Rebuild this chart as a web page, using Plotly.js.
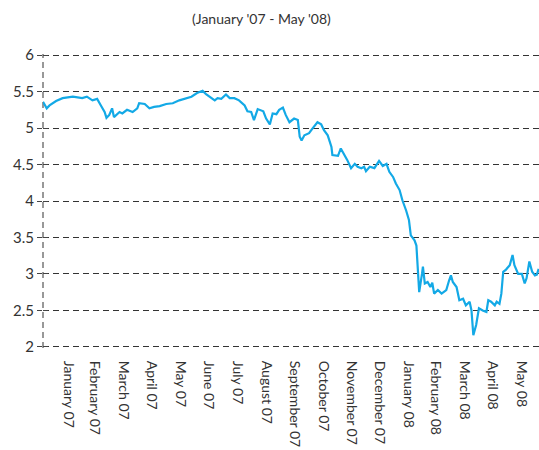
<!DOCTYPE html>
<html>
<head>
<meta charset="utf-8">
<script src="https://cdn.plot.ly/plotly-3.0.1.min.js"></script>
<style>
  html, body { margin: 0; padding: 0; background: #fff; }
  #chart { width: 539px; height: 450px; }
</style>
</head>
<body>
<div id="chart"></div>
<script>
const dates = [
'2007-01-04','2007-01-08','2007-01-11','2007-01-18','2007-01-25','2007-02-05','2007-02-15','2007-02-20','2007-02-26','2007-03-03',
'2007-03-07','2007-03-11','2007-03-13','2007-03-16','2007-03-19','2007-03-21','2007-03-27','2007-03-30','2007-04-04','2007-04-10',
'2007-04-15','2007-04-17','2007-04-23','2007-04-28','2007-05-03','2007-05-09','2007-05-16','2007-05-23','2007-05-30','2007-06-04',
'2007-06-12','2007-06-18','2007-06-24','2007-06-28','2007-07-01','2007-07-07','2007-07-10','2007-07-14','2007-07-19','2007-07-23',
'2007-07-28','2007-08-02','2007-08-08','2007-08-11','2007-08-15','2007-08-18','2007-08-22','2007-08-28','2007-08-31','2007-09-04',
'2007-09-07','2007-09-11','2007-09-14','2007-09-18','2007-09-21','2007-09-25','2007-09-30','2007-10-04','2007-10-06','2007-10-08',
'2007-10-11','2007-10-16','2007-10-20','2007-10-25','2007-10-29','2007-11-01','2007-11-05','2007-11-09','2007-11-10','2007-11-16',
'2007-11-19','2007-11-23','2007-11-26','2007-11-30','2007-12-04','2007-12-07','2007-12-11','2007-12-14','2007-12-16','2007-12-20',
'2007-12-25','2007-12-30','2008-01-03','2008-01-07','2008-01-10','2008-01-14','2008-01-17','2008-01-21','2008-01-24','2008-01-28',
'2008-01-31','2008-02-02','2008-02-06','2008-02-08','2008-02-09','2008-02-10','2008-02-11','2008-02-14','2008-02-15','2008-02-17',
'2008-02-20','2008-02-23','2008-02-25','2008-02-27','2008-03-02','2008-03-06','2008-03-11','2008-03-14','2008-03-16','2008-03-18',
'2008-03-22','2008-03-25','2008-03-29','2008-04-01','2008-04-05','2008-04-07','2008-04-09','2008-04-12','2008-04-15','2008-04-19',
'2008-04-23','2008-04-25','2008-04-28','2008-05-02','2008-05-04','2008-05-07','2008-05-09','2008-05-11','2008-05-14','2008-05-18',
'2008-05-21','2008-05-23','2008-05-27','2008-05-31','2008-06-03','2008-06-05','2008-06-08','2008-06-11','2008-06-14','2008-06-16',
'2008-06-18'
];
const values = [
5.36,5.27,5.31,5.37,5.41,5.43,5.41,5.43,5.38,5.40,
5.31,5.22,5.14,5.18,5.27,5.15,5.22,5.20,5.25,5.22,
5.27,5.34,5.33,5.27,5.29,5.30,5.33,5.34,5.38,5.40,
5.43,5.48,5.51,5.46,5.43,5.38,5.41,5.40,5.46,5.41,
5.41,5.38,5.31,5.23,5.22,5.11,5.26,5.23,5.13,5.05,
5.20,5.19,5.25,5.28,5.18,5.08,5.13,5.11,4.88,4.83,
4.90,4.93,5.00,5.08,5.05,4.97,4.90,4.74,4.63,4.62,
4.72,4.63,4.56,4.45,4.51,4.47,4.45,4.47,4.41,4.47,
4.45,4.55,4.48,4.51,4.40,4.33,4.24,4.15,4.01,3.87,
3.74,3.53,3.46,3.39,3.19,3.05,2.75,3.00,3.10,2.87,
2.89,2.82,2.88,2.73,2.78,2.73,2.78,2.91,2.98,2.89,
2.82,2.64,2.66,2.57,2.62,2.50,2.16,2.30,2.53,2.50,
2.48,2.64,2.62,2.57,2.62,2.59,2.73,3.03,3.06,3.12,
3.26,3.12,3.00,3.00,2.87,2.94,3.17,3.03,2.98,2.99,
3.07
];
const tickDates = ['2007-01-31','2007-02-28','2007-03-31','2007-04-30','2007-05-31','2007-06-30','2007-07-31','2007-08-31',
  '2007-09-30','2007-10-31','2007-11-30','2007-12-31','2008-01-31','2008-02-29','2008-03-31','2008-04-30','2008-05-31'];
const tickLabels = ['January 07','February 07','March 07','April 07','May 07','June 07','July 07','August 07',
  'September 07','October 07','November 07','December 07','January 08','February 08','March 08','April 08','May 08'];
const yTicks = [2, 2.5, 3, 3.5, 4, 4.5, 5, 5.5, 6];
const titleText = "(January '07 - May '08)";

const FONT = 'Lato, "Open Sans", sans-serif';
const TXT = '#333333';

const traces = [
  {
    x: dates, y: values, type: 'scatter', mode: 'lines',
    line: { color: '#13A9E6', width: 2.2 },
    hoverinfo: 'x+y', showlegend: false
  },
  {
    x: [], y: [], type: 'scatter', mode: 'lines', yaxis: 'y2', showlegend: false, hoverinfo: 'skip'
  }
];

const Y_RANGE = [1.985, 6.015];

const layout = {
  width: 539, height: 450,
  margin: { l: 43, r: 0, t: 54, b: 102, pad: 0 },
  paper_bgcolor: '#ffffff', plot_bgcolor: '#ffffff',
  font: { family: FONT, color: TXT, size: 14 },
  title: {
    text: titleText, x: 0.485, xref: 'container', xanchor: 'center',
    y: 0.958, yref: 'container', yanchor: 'middle',
    font: { family: FONT, size: 14, color: TXT }
  },
  xaxis: {
    type: 'date',
    range: ['2007-01-04', '2008-06-18 08:00'],
    tickmode: 'array', tickvals: tickDates, ticktext: tickLabels,
    tickangle: 90, ticks: 'outside', ticklen: 9, tickcolor: 'rgba(0,0,0,0)',
    showgrid: false, zeroline: false, showline: false,
    automargin: false,
    tickfont: { family: FONT, size: 14, color: TXT }
  },
  yaxis: {
    range: Y_RANGE,
    tickmode: 'array', tickvals: yTicks, ticktext: yTicks.map(v => String(v)),
    ticks: 'outside', ticklen: 5, tickcolor: '#444', tickwidth: 1,
    showgrid: true, gridcolor: '#333333', gridwidth: 1, griddash: '6px,4px',
    zeroline: false, showline: false, automargin: false,
    tickfont: { family: FONT, size: 15, color: TXT }
  },
  yaxis2: {
    overlaying: 'y', side: 'left', range: Y_RANGE,
    tickmode: 'array', tickvals: yTicks,
    ticks: 'inside', ticklen: 5, tickcolor: '#444', tickwidth: 1,
    showticklabels: false, showgrid: false, zeroline: false, showline: false
  },
  shapes: [
    { type: 'line', xref: 'paper', yref: 'paper', x0: 0, x1: 0, y0: 0, y1: 1,
      line: { color: '#777777', width: 1.5, dash: '6px,4px' }, layer: 'below' }
  ],
  showlegend: false
};

Plotly.newPlot('chart', traces, layout, { displayModeBar: false, staticPlot: true });
</script>
</body>
</html>
